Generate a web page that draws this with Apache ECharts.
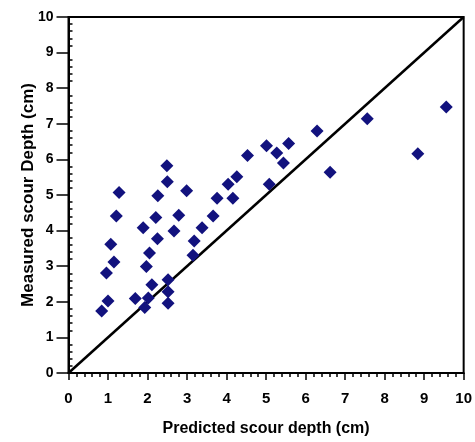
<!DOCTYPE html>
<html>
<head>
<meta charset="utf-8">
<script src="https://cdn.jsdelivr.net/npm/echarts@6/dist/echarts.min.js"></script>
<style>html,body{margin:0;padding:0;background:#fff;}#chart{width:475px;height:442px;}</style>
</head>
<body>
<div id="chart"></div>
<script>
const predicted = [0.84,1.00,0.96,1.15,1.07,1.21,1.28,
  1.69,1.93,2.02,2.11,1.97,2.05,2.25,1.89,2.21,2.26,2.50,2.49,
  2.52,2.52,2.52,2.67,2.79,2.99,
  3.15,3.18,3.38,3.66,3.76,4.04,4.16,4.26,4.53,
  5.01,5.27,5.44,5.57,5.08,
  6.29,6.62,7.56,8.84,9.56];
const measured = [1.74,2.02,2.81,3.12,3.62,4.41,5.07,
  2.09,1.84,2.11,2.48,2.99,3.37,3.77,4.08,4.37,4.98,5.37,5.82,
  1.96,2.28,2.62,3.99,4.43,5.12,
  3.31,3.71,4.08,4.41,4.91,5.30,4.91,5.51,6.11,
  6.38,6.18,5.90,6.45,5.30,
  6.80,5.64,7.14,6.16,7.47];
const lineX = [0, 10];
const lineY = [0, 10];
const tickLabels = ['0','1','2','3','4','5','6','7','8','9','10'];

const chart = echarts.init(document.getElementById('chart'), null, {renderer: 'canvas'});
const font = '"Liberation Sans", Arial, sans-serif';
chart.setOption({
  animation: false,
  backgroundColor: '#fff',
  grid: {left: 68.5, right: 11, top: 17, bottom: 62, show: true, borderColor: '#000', borderWidth: 2, backgroundColor: 'transparent'},
  xAxis: {
    type: 'value', min: 0, max: 10, interval: 1,
    axisLine: {show: true, lineStyle: {color: '#000', width: 2}},
    axisTick: {show: true, length: 7, lineStyle: {color: '#000', width: 1.5}},
    minorTick: {show: true, splitNumber: 5, length: 4, lineStyle: {color: '#000', width: 1.5}},
    splitLine: {show: false},
    axisLabel: {color: '#000', fontSize: 15, fontWeight: 'bold', fontFamily: font, margin: 18,
      formatter: v => tickLabels[Math.round(v)]},
    name: 'Predicted scour depth (cm)', nameLocation: 'middle', nameGap: 48, nameMoveOverlap: false,
    nameTextStyle: {color: '#000', fontSize: 16, fontWeight: 'bold', fontFamily: font}
  },
  yAxis: {
    type: 'value', min: 0, max: 10, interval: 1,
    axisLine: {show: true, lineStyle: {color: '#000', width: 2}},
    axisTick: {show: true, length: 12, lineStyle: {color: '#000', width: 1.5}},
    minorTick: {show: true, splitNumber: 5, length: -4, lineStyle: {color: '#000', width: 1.5}},
    splitLine: {show: false},
    axisLabel: {color: '#000', fontSize: 14, fontWeight: 'bold', fontFamily: font, margin: 15,
      formatter: v => tickLabels[Math.round(v)]},
    name: 'Measured scour Depth (cm)', nameLocation: 'middle', nameGap: 32, nameMoveOverlap: false,
    nameTextStyle: {color: '#000', fontSize: 17, fontWeight: 'bold', fontFamily: font}
  },
  series: [
    {type: 'line', data: lineX.map((x, i) => [x, lineY[i]]), symbol: 'none', z: 1,
      lineStyle: {color: '#000', width: 2.5}},
    {type: 'scatter', data: predicted.map((x, i) => [x, measured[i]]), symbol: 'diamond', symbolSize: 13, z: 2,
      itemStyle: {color: '#12127e', opacity: 1}}
  ]
});
</script>
</body>
</html>
